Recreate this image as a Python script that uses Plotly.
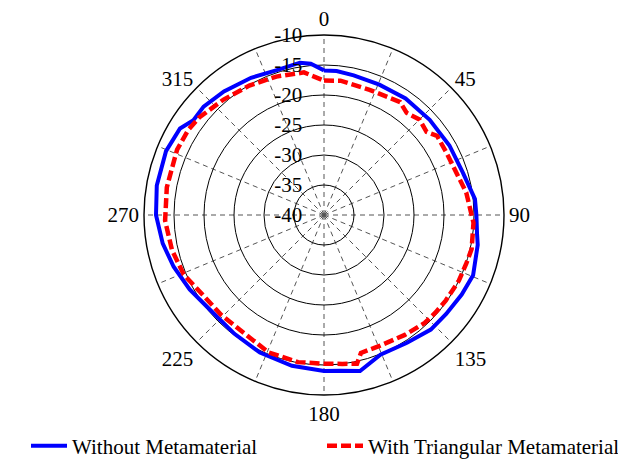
import plotly.graph_objects as go

# Angles (deg, clockwise from top) and gain (dB)
theta_without = [0, 5, 12, 23, 35, 48, 61, 73, 84, 90, 97, 101, 112, 120, 129, 137,
                 147, 158, 167, 174, 180, 192, 205, 217, 230, 241, 251, 260, 270,
                 280, 292, 301, 306, 312, 321, 332, 342, 351, 355, 360]
gain_without = [-15.9, -15.9, -16.2, -16.4, -16.3, -16.3, -16.1, -15.8, -14.7, -14.6,
                -14.3, -13.9, -13.2, -13.5, -13.8, -13.9, -14.6, -14.9, -13.3, -13.9,
                -14.0, -14.3, -14.7, -15.2, -15.3, -14.4, -13.5, -12.7, -12.0, -11.7,
                -11.6, -12.0, -13.1, -13.0, -13.5, -14.1, -14.6, -14.3, -14.7, -15.9]

theta_tri = [0, 7, 20, 34, 39, 45, 51, 55, 63, 73, 81, 90, 93, 103, 109, 116, 125,
             131, 137, 146, 157, 165, 167.5, 173, 180, 190, 202, 213, 226, 238, 247,
             257, 268, 280, 294, 302, 308, 319, 330, 341, 352, 360]
gain_tri = [-17.6, -17.45, -17.8, -17.3, -18.1, -17.5, -18.0, -17.0, -17.1, -16.8,
            -16.0, -15.4, -15.05, -14.75, -14.95, -15.0, -15.2, -15.3, -15.4, -15.9,
            -16.3, -16.2, -14.6, -15.0, -15.2, -15.1, -15.3, -16.2, -16.1, -15.7,
            -14.6, -14.0, -13.5, -13.4, -13.2, -13.3, -13.6, -14.5, -15.1, -15.6,
            -16.0, -17.6]

radial_ticks = [-40, -35, -30, -25, -20, -15, -10]
angle_ticks = [i * 22.5 for i in range(16)]
angle_labels = ["0", "", "45", "", "90", "", "135", "", "180", "", "225", "", "270", "", "315", ""]

FONT = "Liberation Serif"
FS = 21

fig = go.Figure()
fig.add_trace(go.Scatterpolar(
    r=gain_without, theta=theta_without, mode="lines",
    name="Without Metamaterial",
    line=dict(color="#0000FF", width=4),
))
fig.add_trace(go.Scatterpolar(
    r=gain_tri, theta=theta_tri, mode="lines",
    name="With Triangular Metamaterial",
    line=dict(color="#FF0000", width=4.5, dash="10px,4px"),
))

fig.update_layout(
    width=624, height=459,
    margin=dict(l=0, r=0, t=0, b=0, autoexpand=False),
    paper_bgcolor="white",
    font=dict(family=FONT, size=FS, color="black"),
    polar=dict(
        domain=dict(x=[144 / 624, 504 / 624], y=[(459 - 395) / 459, (459 - 35) / 459]),
        bgcolor="white",
        radialaxis=dict(
            range=[-40, -10], tickmode="array", tickvals=radial_ticks,
            ticktext=[str(v) for v in radial_ticks],
            angle=90, tickangle=90, side="counterclockwise",
            showline=False, ticks="outside", ticklen=14, tickcolor="rgba(0,0,0,0)",
            gridcolor="black", gridwidth=1.4,
            tickfont=dict(family=FONT, size=FS, color="black"),
        ),
        angularaxis=dict(
            rotation=90, direction="clockwise",
            tickmode="array", tickvals=angle_ticks, ticktext=angle_labels,
            showline=True, linecolor="black", linewidth=1.4,
            ticks="",
            gridcolor="#555555", gridwidth=1, griddash="5px,4px",
            tickfont=dict(family=FONT, size=FS, color="black"),
        ),
    ),
    legend=dict(
        orientation="h", x=26 / 624, xanchor="left", y=13 / 459, yanchor="middle",
        itemwidth=36, entrywidth=245, entrywidthmode="pixels",
        font=dict(family=FONT, size=FS, color="black"),
        bgcolor="rgba(0,0,0,0)",
    ),
)

fig.write_html("out.html", config={"displayModeBar": False},
               post_script="document.body.style.margin='0px';")
